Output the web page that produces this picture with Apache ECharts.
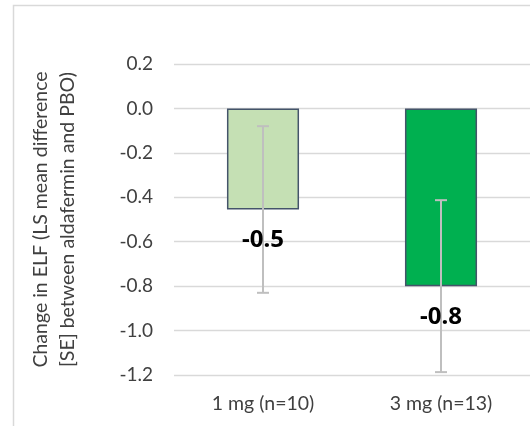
<!DOCTYPE html>
<html>
<head>
<meta charset="utf-8">
<script src="https://cdn.jsdelivr.net/npm/echarts@6/dist/echarts.min.js"></script>
<style>html,body{margin:0;padding:0;background:#fff;}#c{width:530px;height:426px;}</style>
</head>
<body>
<div id="c"></div>
<script>
const categories = ['1 mg (n=10)', '3 mg (n=13)'];
const values = [-0.455, -0.80];
const errLow = [-0.83, -1.187];
const errHigh = [-0.08, -0.413];
const barColors = ['#C5E0B4', '#00B050'];
const yTicks = { min: -1.2, max: 0.2, interval: 0.2 };
const yAxisName = 'Change in ELF (LS mean difference\n[SE] between aldafermin and PBO)';

const FONT = 'Lato';
const chart = echarts.init(document.getElementById('c'));
chart.setOption({
  animation: false,
  backgroundColor: '#fff',
  textStyle: { fontFamily: FONT },
  graphic: [{
    type: 'rect', z: -10, silent: true,
    shape: { x: 13.5, y: 5.5, width: 700, height: 700 },
    style: { fill: 'none', stroke: '#D9D9D9', lineWidth: 1.5 }
  }],
  grid: { left: 174, right: -2, top: 64, bottom: 51, containLabel: false },
  xAxis: {
    type: 'category',
    data: categories,
    axisLine: { show: false },
    axisTick: { show: false },
    axisLabel: { color: '#404040', fontSize: 19.5, fontFamily: FONT, margin: 19 }
  },
  yAxis: {
    type: 'value',
    min: yTicks.min, max: yTicks.max, interval: yTicks.interval,
    name: yAxisName,
    nameLocation: 'middle',
    nameRotate: 90,
    nameGap: 93,
    nameTextStyle: { color: '#404040', fontSize: 19.5, fontFamily: FONT, lineHeight: 27, align: 'center' },
    axisLine: { show: false },
    axisTick: { show: false },
    axisLabel: { color: '#404040', fontSize: 19, fontFamily: FONT, margin: 21,
      formatter: v => v.toFixed(1) },
    splitLine: { lineStyle: { color: '#D9D9D9', width: 1.3 } }
  },
  series: [{
    type: 'bar',
    barWidth: '40.5%',
    data: values.map((v, i) => ({
      value: v,
      itemStyle: { color: barColors[i], borderColor: '#44546A', borderWidth: 1.5 }
    })),
    z: 2
  }, {
    type: 'custom',
    z: 3,
    data: categories.map((c, i) => [i, errLow[i], errHigh[i], values[i]]),
    renderItem: function (params, api) {
      const lo = api.coord([api.value(0), api.value(1)]);
      const hi = api.coord([api.value(0), api.value(2)]);
      const end = api.coord([api.value(0), api.value(3)]);
      const x = lo[0], hw = 6;
      const st = { stroke: '#BFBFBF', lineWidth: 2 };
      return { type: 'group', children: [
        { type: 'line', shape: { x1: x, y1: lo[1], x2: x, y2: hi[1] }, style: st },
        { type: 'line', shape: { x1: x - hw, y1: lo[1], x2: x + hw, y2: lo[1] }, style: st },
        { type: 'line', shape: { x1: x - hw, y1: hi[1], x2: x + hw, y2: hi[1] }, style: st },
        { type: 'text', z2: 10, x: x, y: end[1] + 31,
          style: { text: api.value(3).toFixed(1), fill: '#000', font: 'bold 24px "Noto Sans"',
                   align: 'center', verticalAlign: 'middle' } }
      ]};
    }
  }]
});
</script>
</body>
</html>
